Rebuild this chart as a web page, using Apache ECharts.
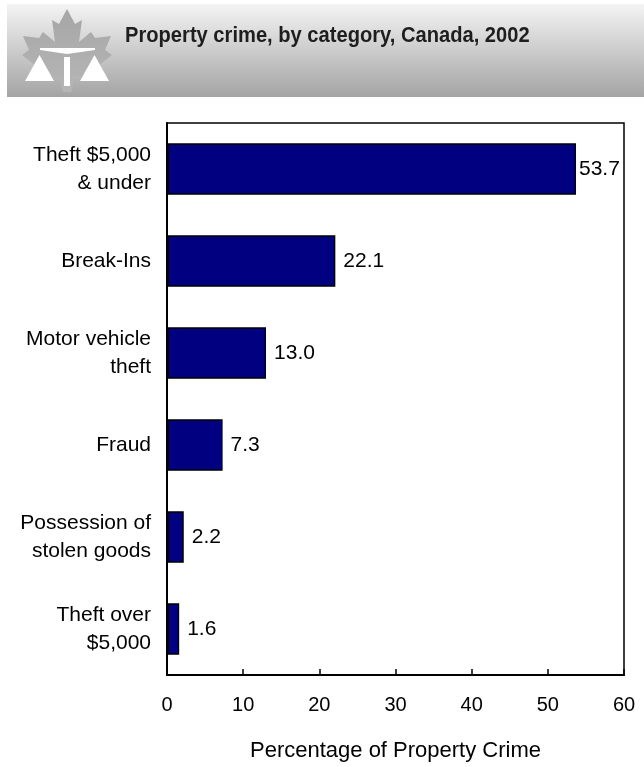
<!DOCTYPE html>
<html>
<head>
<meta charset="utf-8">
<script src="https://cdn.jsdelivr.net/npm/echarts@6/dist/echarts.min.js"></script>
<style>
html,body{margin:0;padding:0;background:#fff;}
#chart{width:644px;height:767px;}
</style>
</head>
<body>
<div id="chart"></div>
<script>
const categories = ['Theft $5,000\n& under', 'Break-Ins', 'Motor vehicle\ntheft', 'Fraud', 'Possession of\nstolen goods', 'Theft over\n$5,000'];
const values = [53.7, 22.1, 13.0, 7.3, 2.2, 1.6];
const xTicks = [0, 10, 20, 30, 40, 50, 60];
const titleText = 'Property crime, by category, Canada, 2002';
const axisName = 'Percentage of Property Crime';

const chart = echarts.init(document.getElementById('chart'), null, {renderer: 'canvas'});

const leafRel = [[0,9],[8,24],[15,20],[12,42],[24,32],[28,38],[44,36],[38,50],[45,55],[26,70],[29,78],[8,76],[4,92],[-4,92],[-8,76],[-29,78],[-26,70],[-45,55],[-38,50],[-44,36],[-28,38],[-24,32],[-12,42],[-15,20],[-8,24]];
const cx = 67;
const leafPts = leafRel.map(p => [cx + p[0], p[1]]);
const FONT = '"Liberation Sans", Arial, sans-serif';

chart.setOption({
  animation: false,
  backgroundColor: '#fff',
  graphic: [
    { type: 'rect', shape: {x: 7, y: 4, width: 637, height: 93}, z: 0,
      style: { fill: new echarts.graphic.LinearGradient(0, 0, 0, 1, [
        {offset: 0, color: '#f4f4f4'}, {offset: 1, color: '#a4a4a4'}]) } },
    { type: 'polygon', shape: {points: leafPts}, z: 1,
      style: { fill: new echarts.graphic.LinearGradient(0, 0, 0, 1, [
        {offset: 0, color: '#a6a6a6'}, {offset: 1, color: '#b6b6b6'}]) } },
    { type: 'polygon', shape: {points: [[40,48],[95,48],[95,50],[67,54],[40,50]]}, z: 2, style: {fill: '#fff'} },
    { type: 'rect', shape: {x: 64, y: 57, width: 6, height: 29}, z: 2, style: {fill: '#fff'} },
    { type: 'polygon', shape: {points: [[25,81],[39.5,55],[54,81]]}, z: 2, style: {fill: '#fff'} },
    { type: 'polygon', shape: {points: [[80,81],[94.5,55],[109,81]]}, z: 2, style: {fill: '#fff'} },
    { type: 'text', x: 125, y: 36, scaleX: 0.915, scaleY: 1, z: 3,
      style: { text: titleText, fill: '#1e1e1e', x: 0, y: 0, verticalAlign: 'middle', align: 'left',
        font: 'bold 22px "Liberation Sans", Arial, sans-serif' } }
  ],
  grid: { left: 167, right: 20, top: 123, bottom: 79, show: true, borderColor: '#000', borderWidth: 1.5, backgroundColor: 'transparent' },
  xAxis: {
    type: 'value', min: 0, max: 60, interval: 10,
    axisLine: { show: true, lineStyle: { color: '#000', width: 2 } },
    axisTick: { show: true, inside: true, length: 6, lineStyle: { color: '#000', width: 1.5 } },
    splitLine: { show: false },
    axisLabel: { fontSize: 20, color: '#000', margin: 20, fontFamily: FONT,
      formatter: v => xTicks.includes(v) ? String(v) : '' },
    name: axisName, nameLocation: 'middle', nameGap: 65,
    nameTextStyle: { fontSize: 22, color: '#000', fontFamily: FONT }
  },
  yAxis: {
    type: 'category', data: categories, inverse: true,
    axisLine: { show: true, lineStyle: { color: '#000', width: 2 } },
    axisTick: { show: false },
    axisLabel: { fontSize: 21, color: '#000', margin: 16, lineHeight: 28, align: 'right', fontFamily: FONT }
  },
  series: [{
    type: 'bar',
    data: values.map((v, i) => i === 0 ? { value: v, label: { distance: 3 } } : v),
    barWidth: '56%',
    itemStyle: { color: '#000080', borderColor: '#000', borderWidth: 1.5 },
    label: { show: true, position: 'right', distance: 8, fontSize: 21, color: '#000',
      fontFamily: FONT,
      formatter: p => Number(p.value).toFixed(1) }
  }]
});
</script>
</body>
</html>
